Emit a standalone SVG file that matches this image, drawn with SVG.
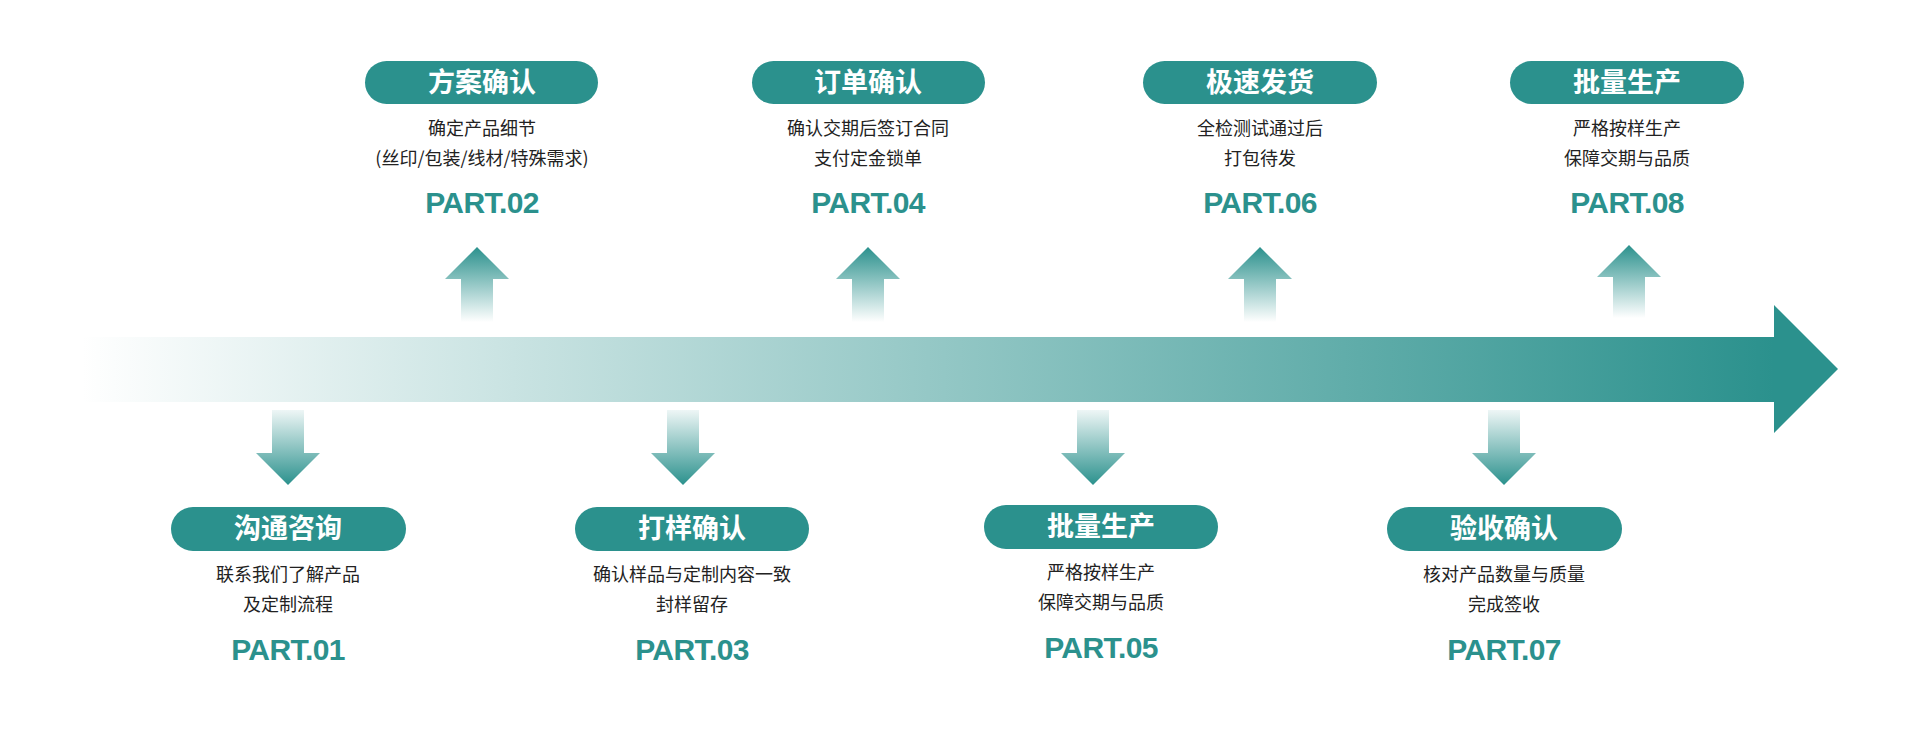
<svg xmlns="http://www.w3.org/2000/svg" width="1920" height="738" viewBox="0 0 1920 738">
<defs>
<linearGradient id="barGrad" gradientUnits="userSpaceOnUse" x1="82" y1="0" x2="1774" y2="0">
<stop offset="0" stop-color="#ffffff"/>
<stop offset="1" stop-color="#2b918d"/>
</linearGradient>
<linearGradient id="upGrad" x1="0" y1="0" x2="0" y2="1">
<stop offset="0" stop-color="#2b918d"/>
<stop offset="1" stop-color="#2b918d" stop-opacity="0"/>
</linearGradient>
<linearGradient id="downGrad" x1="0" y1="0" x2="0" y2="1">
<stop offset="0" stop-color="#2b918d" stop-opacity="0.08"/>
<stop offset="1" stop-color="#2b918d"/>
</linearGradient>
<style>
.pill{fill:#2b918d}
.title{font-family:"Noto Sans CJK SC","Noto Sans",sans-serif;font-weight:700;font-size:27px;fill:#ffffff;text-anchor:middle}
.sub{font-family:"Noto Sans CJK SC","Noto Sans",sans-serif;font-size:18px;fill:#222222;text-anchor:middle}
.part{font-family:"Liberation Sans",Arial,sans-serif;font-weight:700;font-size:30px;fill:#2b918d;text-anchor:middle;letter-spacing:-0.6px}
.up{fill:url(#upGrad)}
.down{fill:url(#downGrad)}
</style>
</defs>
<rect width="1920" height="738" fill="#ffffff"/>
<g id="connectors">
<path d="M80,337 H1774 V305 L1838,369 L1774,433 V402 H80 Z" fill="url(#barGrad)"/>
<polygon class="up" points="477,247 509,279 493,279 493,322 461,322 461,279 445,279"/>
<polygon class="up" points="868,247 900,279 884,279 884,322 852,322 852,279 836,279"/>
<polygon class="up" points="1260,247 1292,279 1276,279 1276,322 1244,322 1244,279 1228,279"/>
<polygon class="up" points="1629,245 1661,277 1645,277 1645,318 1613,318 1613,277 1597,277"/>
<polygon class="down" points="272,410 304,410 304,453 320,453 288,485 256,453 272,453"/>
<polygon class="down" points="667,410 699,410 699,453 715,453 683,485 651,453 667,453"/>
<polygon class="down" points="1077,410 1109,410 1109,453 1125,453 1093,485 1061,453 1077,453"/>
<polygon class="down" points="1488,410 1520,410 1520,453 1536,453 1504,485 1472,453 1488,453"/>
</g>
<g id="node1">
<rect class="pill" x="171" y="507" width="235" height="44" rx="22"/>
<text class="title" x="288" y="538">沟通咨询</text>
<text class="sub" x="288" y="581">联系我们了解产品</text>
<text class="sub" x="288" y="611">及定制流程</text>
<text class="part" x="288" y="660">PART.01</text>
</g>
<g id="node2">
<rect class="pill" x="365" y="61" width="233" height="43" rx="21.5"/>
<text class="title" x="482" y="92">方案确认</text>
<text class="sub" x="482" y="135">确定产品细节</text>
<text class="sub" x="482" y="165">(丝印/包装/线材/特殊需求)</text>
<text class="part" x="482" y="213">PART.02</text>
</g>
<g id="node3">
<rect class="pill" x="575" y="507" width="234" height="44" rx="22"/>
<text class="title" x="692" y="538">打样确认</text>
<text class="sub" x="692" y="581">确认样品与定制内容一致</text>
<text class="sub" x="692" y="611">封样留存</text>
<text class="part" x="692" y="660">PART.03</text>
</g>
<g id="node4">
<rect class="pill" x="752" y="61" width="233" height="43" rx="21.5"/>
<text class="title" x="868" y="92">订单确认</text>
<text class="sub" x="868" y="135">确认交期后签订合同</text>
<text class="sub" x="868" y="165">支付定金锁单</text>
<text class="part" x="868" y="213">PART.04</text>
</g>
<g id="node5">
<rect class="pill" x="984" y="505" width="234" height="44" rx="22"/>
<text class="title" x="1101" y="536">批量生产</text>
<text class="sub" x="1101" y="579">严格按样生产</text>
<text class="sub" x="1101" y="609">保障交期与品质</text>
<text class="part" x="1101" y="658">PART.05</text>
</g>
<g id="node6">
<rect class="pill" x="1143" y="61" width="234" height="43" rx="21.5"/>
<text class="title" x="1260" y="92">极速发货</text>
<text class="sub" x="1260" y="135">全检测试通过后</text>
<text class="sub" x="1260" y="165">打包待发</text>
<text class="part" x="1260" y="213">PART.06</text>
</g>
<g id="node7">
<rect class="pill" x="1387" y="507" width="235" height="44" rx="22"/>
<text class="title" x="1504" y="538">验收确认</text>
<text class="sub" x="1504" y="581">核对产品数量与质量</text>
<text class="sub" x="1504" y="611">完成签收</text>
<text class="part" x="1504" y="660">PART.07</text>
</g>
<g id="node8">
<rect class="pill" x="1510" y="61" width="234" height="43" rx="21.5"/>
<text class="title" x="1627" y="92">批量生产</text>
<text class="sub" x="1627" y="135">严格按样生产</text>
<text class="sub" x="1627" y="165">保障交期与品质</text>
<text class="part" x="1627" y="213">PART.08</text>
</g>
</svg>
